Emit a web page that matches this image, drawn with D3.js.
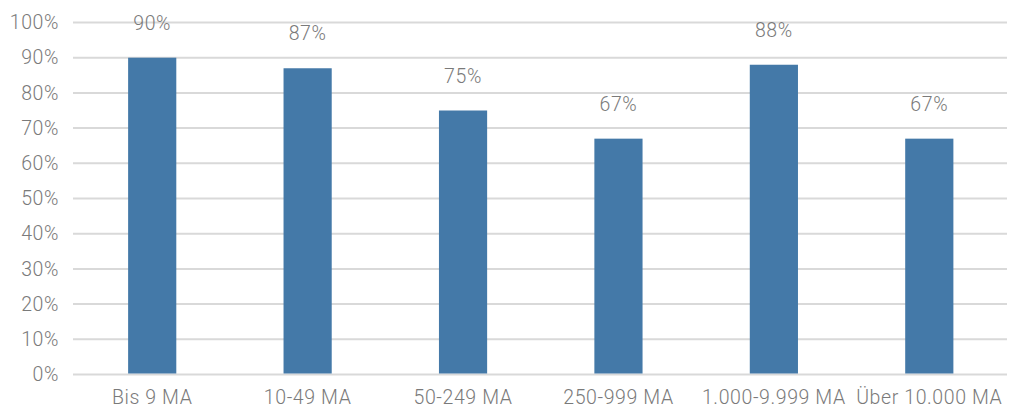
<!DOCTYPE html>
<html>
<head>
<meta charset="utf-8">
<script src="https://cdn.jsdelivr.net/npm/d3@7"></script>
<style>
  html, body { margin: 0; padding: 0; background: #fff; }
  svg text { font-family: Roboto, "Liberation Sans", sans-serif; font-weight: 300; fill: #7a7a7a; letter-spacing: 0.6px; }
</style>
</head>
<body>
<svg id="chart" width="1021" height="410"></svg>
<script>
// Share of companies per size class (MA = Mitarbeiter)
const categories = ["Bis 9 MA", "10-49 MA", "50-249 MA", "250-999 MA", "1.000-9.999 MA", "Über 10.000 MA"];
const values = [90, 87, 75, 67, 88, 67];
const yTicks = [0, 10, 20, 30, 40, 50, 60, 70, 80, 90, 100];

const svg = d3.select("#chart");
const plotLeft = 74.5, plotRight = 1007, plotTop = 22.5, plotBottom = 374.5;
const fontSize = 19.5;

const x = d3.scaleBand().domain(categories).range([plotLeft, plotRight]).paddingInner(0.69).paddingOuter(0.345);
const y = d3.scaleLinear().domain([0, 100]).range([plotBottom, plotTop]);

// horizontal gridlines
svg.append("g")
  .selectAll("line")
  .data(yTicks)
  .join("line")
  .attr("x1", 73).attr("x2", plotRight)
  .attr("y1", d => y(d)).attr("y2", d => y(d))
  .attr("stroke", "#d9d9d9").attr("stroke-width", 2);

// y axis labels
const yAxis = d3.axisLeft(y).tickValues(yTicks).tickFormat(d => d + "%").tickSize(0).tickPadding(0);
const gy = svg.append("g").attr("transform", "translate(59,0)").call(yAxis);
gy.select(".domain").remove();
gy.attr("font-family", null).attr("font-size", null);
gy.selectAll("text").attr("font-size", fontSize);

// bars
svg.append("g")
  .selectAll("rect")
  .data(values)
  .join("rect")
  .attr("x", (d, i) => x(categories[i]))
  .attr("width", x.bandwidth())
  .attr("y", d => y(d))
  .attr("height", d => y(0) - y(d) - 1)
  .attr("fill", "#4479a8");

// value labels
svg.append("g")
  .selectAll("text")
  .data(values)
  .join("text")
  .attr("x", (d, i) => x(categories[i]) + x.bandwidth() / 2)
  .attr("y", d => y(d) - 28)
  .attr("text-anchor", "middle")
  .attr("font-size", fontSize)
  .text(d => d + "%");

// category labels
const xAxis = d3.axisBottom(x).tickSize(0).tickPadding(0);
const gx = svg.append("g").attr("transform", "translate(0,390)").call(xAxis);
gx.select(".domain").remove();
gx.attr("font-family", null).attr("font-size", null);
gx.selectAll("text").attr("font-size", fontSize).attr("dy", "0.71em");
</script>
</body>
</html>
